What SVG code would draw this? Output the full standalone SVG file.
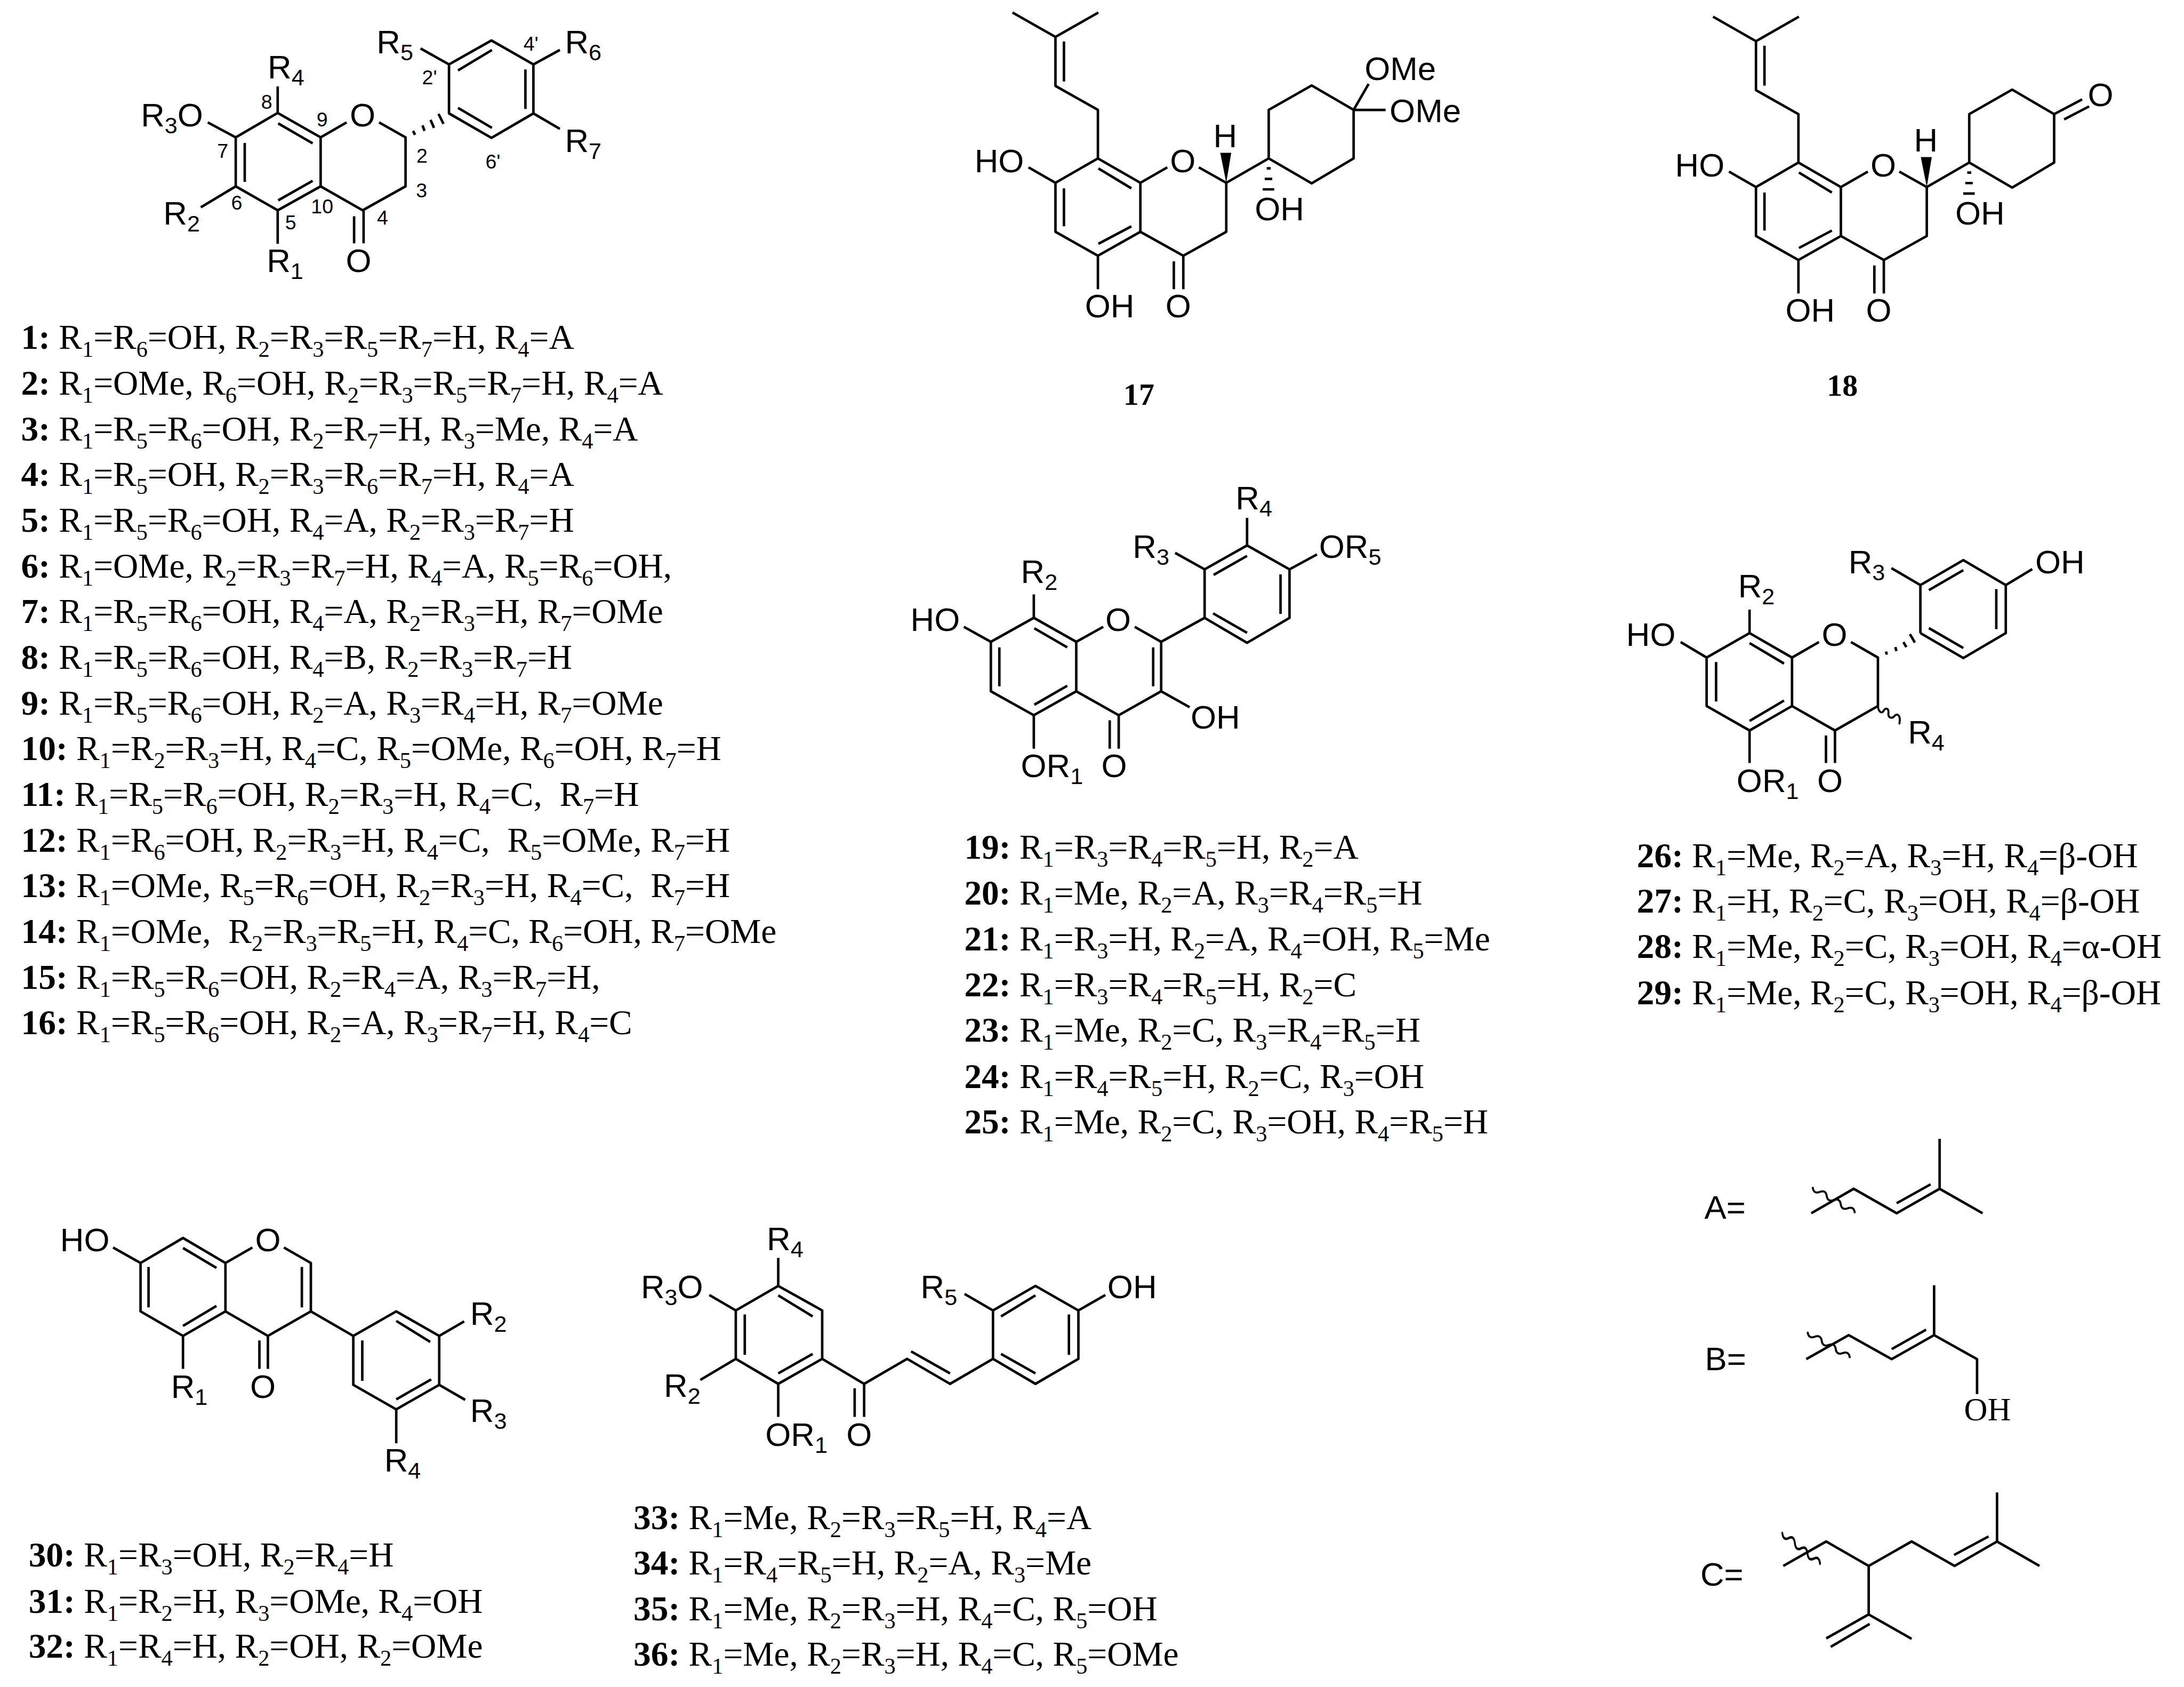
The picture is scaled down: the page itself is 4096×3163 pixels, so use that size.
<svg xmlns="http://www.w3.org/2000/svg" width="4096" height="3163" viewBox="0 0 4096 3163">
<style>
.b{fill:none;stroke:#000;stroke-width:5;stroke-linecap:butt;stroke-linejoin:round}
.w{fill:none;stroke:#000;stroke-width:4;stroke-linecap:round}
.l{font-family:"Liberation Sans",Arial,sans-serif;font-size:66px;fill:#000}
.c{text-anchor:middle}
.u{font-size:46px;baseline-shift:-14px}
.n{font-family:"Liberation Sans",Arial,sans-serif;font-size:40px;fill:#000;text-anchor:middle}
.t{font-family:"Liberation Serif","Times New Roman",serif;font-size:69.5px;fill:#000;white-space:pre}
.s{font-size:45px;baseline-shift:-16px}
.k{font-weight:bold}
.id{font-family:"Liberation Serif","Times New Roman",serif;font-size:62px;font-weight:bold;text-anchor:middle;fill:#000}
.o{font-family:"Liberation Serif","Times New Roman",serif;font-size:65px;fill:#000}
</style>
<defs>
<path id="core" class="b" d="M2018 25L2104 74L2190 25M2104 74V172L2189 220V317L2274 366V464L2189 512L2104 464V366L2189 317M2121 83V163M2190 337L2256 377M2121 377V453M2256 453L2190 488M2050 335L2104 366M2274 366L2328 335M2391 335L2446 366V464L2360 512L2274 464M2189 512V579M2341 523V579M2360 512V579M2446 366L2531 317V220L2617 171L2701 220V317L2617 367L2531 317M2527 337H2535M2523 358H2538M2519 379H2542"/>
<path id="wedge" d="M2446 366L2434 306H2456Z" fill="#000"/>
<path id="wave" class="w" d="M0 0q2 12.700 14 8.200t14 8.200 14 8.200 14 8.200 14 8.200 14 8.200"/>
</defs>
<rect width="4096" height="3163" fill="#fff"/>
<g transform="scale(0.94138)">

<g id="structure-1" transform="translate(1,0) scale(.995)">
<path class="b" d="M555 173V226L471 275V373L555 421L641 373V275L555 226M556 247L625 287M489 286V364M625 362L556 401M555 421V488M641 275L693 245M758 245L811 275V373L725 421L641 373M708 433V487M727 421V487M415 245L471 275M401 415L471 373M898 227V129L983 81L1067 129V227L983 276ZM916 141L984 100M1051 139V218M916 216L984 256M841 97L898 129M1120 100L1067 129M1120 258L1067 227M826 262L830 270M845 251L849 262M861 240L868 256M877 228L887 248"/>
<text class="l" x="535" y="157">R<tspan class="u">4</tspan></text>
<text class="l" x="281" y="253">R<tspan class="u">3</tspan>O</text>
<text class="l" x="326" y="449">R<tspan class="u">2</tspan></text>
<text class="l" x="533" y="545">R<tspan class="u">1</tspan></text>
<text class="l c" x="717" y="545">O</text>
<text class="l c" x="725" y="253">O</text>
<text class="l" x="753" y="107">R<tspan class="u">5</tspan></text>
<text class="l" x="1130" y="107">R<tspan class="u">6</tspan></text>
<text class="l" x="1130" y="304">R<tspan class="u">7</tspan></text>
<text class="n" x="533" y="218">8</text>
<text class="n" x="644" y="253">9</text>
<text class="n" x="445" y="316">7</text>
<text class="n" x="473" y="420">6</text>
<text class="n" x="581" y="459">5</text>
<text class="n" x="644" y="427">10</text>
<text class="n" x="765" y="449">4</text>
<text class="n" x="843" y="395">3</text>
<text class="n" x="844" y="326">2</text>
<text class="n" x="859" y="169">2'</text>
<text class="n" x="1062" y="101">4'</text>
<text class="n" x="986" y="337">6'</text>
</g>

<g id="structure-17" transform="translate(9.25,0) scale(.995)">
<use href="#core"/><use href="#wedge"/>
<path class="b" d="M2701 220L2731 168M2701 220H2765"/>
<text class="l" x="1942" y="345">HO</text>
<text class="l c" x="2359" y="345">O</text>
<text class="l c" x="2444" y="295">H</text>
<text class="l" x="2503" y="441">OH</text>
<text class="l" x="2163" y="635">OH</text>
<text class="l c" x="2350" y="635">O</text>
<text class="l" x="2723" y="160">OMe</text>
<text class="l" x="2773" y="245">OMe</text>
<text class="id" x="2271" y="810">17</text>
</g>

<g id="structure-18" transform="translate(1404.85,8.4) scale(.995)">
<use href="#core"/><use href="#wedge"/>
<path class="b" d="M2701 220L2757 190.500M2721 230.500L2771 204.500"/>
<text class="l" x="1942" y="345">HO</text>
<text class="l c" x="2359" y="345">O</text>
<text class="l c" x="2444" y="295">H</text>
<text class="l" x="2503" y="441">OH</text>
<text class="l" x="2163" y="635">OH</text>
<text class="l c" x="2350" y="635">O</text>
<text class="l c" x="2794" y="204.500">O</text>
<text class="id" x="2277" y="783.500">18</text>
</g>

<g id="structure-19" transform="translate(8.9,4.7) scale(.995)">
<path class="b" d="M2061 1185V1232L1975 1280V1379L2061 1427L2146 1379V1280L2061 1232M2062 1253L2128 1291M1992 1291V1369M2128 1368L2062 1406M1921 1250L1975 1280M2146 1280L2200 1250M2263 1250L2316 1280V1379L2231 1427L2146 1379M2300 1291V1369M2316 1280L2403 1232V1135L2488 1087L2573 1135V1232L2488 1282L2403 1232M2421 1146L2488 1108M2555 1145V1224M2420 1223L2488 1262M2344 1102L2403 1135M2488 1032V1087M2628 1105L2573 1135M2373 1411L2316 1379M2061 1427V1494M2213 1437V1494M2231 1427V1494"/>
<text class="l" x="2035" y="1162">R<tspan class="u">2</tspan></text>
<text class="l" x="1814" y="1258">HO</text>
<text class="l c" x="2230" y="1258">O</text>
<text class="l" x="2259" y="1112">R<tspan class="u">3</tspan></text>
<text class="l" x="2465" y="1015">R<tspan class="u">4</tspan></text>
<text class="l" x="2632" y="1112">OR<tspan class="u">5</tspan></text>
<text class="l" x="2375" y="1454">OH</text>
<text class="l" x="2035" y="1551">OR<tspan class="u">1</tspan></text>
<text class="l c" x="2222" y="1551">O</text>
</g>

<g id="structure-26" transform="translate(16,5.200) scale(.995)">
<path class="b" d="M3487 1215V1262L3401 1311V1408L3487 1457L3572 1408V1311L3487 1262M3487 1282L3556 1323M3420 1320V1399M3556 1397L3487 1438M3349 1280L3401 1311M3572 1311L3626 1280M3690 1280L3744 1311V1408L3658 1457L3572 1408M3829 1262V1166L3915 1116L4000 1166V1262L3915 1312L3829 1262M3846 1176L3915 1136M3981 1174V1254M3846 1252L3915 1292M3771 1132L3829 1166M4053 1134L4000 1166M3487 1457V1522M3640 1467V1522M3658 1457V1522M3760 1299L3762 1305M3779 1290L3781 1298M3795 1280L3801 1290M3808 1264L3818 1281"/>
<path class="w" d="M3744 1408C3745 1420 3752 1424 3755 1418C3760 1410 3766 1413 3765 1422C3764 1432 3772 1434 3777 1428C3784 1421 3790 1428 3787 1443"/>
<text class="l" x="3464" y="1191">R<tspan class="u">2</tspan></text>
<text class="l" x="3240" y="1288">HO</text>
<text class="l c" x="3657" y="1288">O</text>
<text class="l" x="3685" y="1142">R<tspan class="u">3</tspan></text>
<text class="l" x="4059" y="1142">OH</text>
<text class="l" x="3804" y="1483">R<tspan class="u">4</tspan></text>
<text class="l" x="3461" y="1580">OR<tspan class="u">1</tspan></text>
<text class="l c" x="3648" y="1580">O</text>
</g>

<g id="structure-30" transform="translate(.4,12) scale(.995)">
<path class="b" d="M226 2485L281 2516V2613L366 2662L451 2613V2516L366 2466L281 2516M366 2486L433 2526M297 2524V2605M433 2602L366 2642M451 2516L505 2485M568 2485L622 2516V2613L536 2662L451 2613M604 2524V2605M622 2613L707 2662V2760L793 2809L879 2760V2662L793 2613L707 2662M793 2632L861 2674M725 2671V2752M863 2749L793 2789M366 2662V2728M519 2671V2728M536 2662V2728M929 2633L879 2662M931 2790L879 2760M793 2809V2877"/>
<text class="l" x="120" y="2493">HO</text>
<text class="l c" x="536" y="2493">O</text>
<text class="l" x="342" y="2786">R<tspan class="u">1</tspan></text>
<text class="l c" x="526" y="2786">O</text>
<text class="l" x="941" y="2640">R<tspan class="u">2</tspan></text>
<text class="l" x="941" y="2834">R<tspan class="u">3</tspan></text>
<text class="l" x="769" y="2934">R<tspan class="u">4</tspan></text>
</g>

<g id="structure-33" transform="translate(6.2,12) scale(.995)">
<path class="b" d="M1552 2506V2562L1640 2611V2708L1552 2758L1467 2708V2611L1552 2562M1552 2581L1621 2623M1485 2619V2700M1621 2698L1552 2737M1414 2580L1467 2611M1396 2750L1467 2708M1552 2758V2824M1640 2708L1724 2758L1810 2708L1896 2758L1982 2708V2611L2067 2562L2153 2611V2708L2067 2758L1982 2708M1818 2693L1896 2737M1998 2623L2067 2581M2134 2619V2700M1998 2698L2067 2737M1925 2578L1982 2611M2207 2580L2153 2611M1705 2767V2824M1724 2758V2824"/>
<text class="l" x="1529" y="2490">R<tspan class="u">4</tspan></text>
<text class="l" x="1277" y="2587">R<tspan class="u">3</tspan>O</text>
<text class="l" x="1323" y="2784">R<tspan class="u">2</tspan></text>
<text class="l" x="1526" y="2882">OR<tspan class="u">1</tspan></text>
<text class="l c" x="1714" y="2882">O</text>
<text class="l" x="1837" y="2587">R<tspan class="u">5</tspan></text>
<text class="l" x="2211" y="2587">OH</text>
</g>

<g id="substituent-A" transform="translate(16.5,11.5) scale(.995)">
<text class="l" x="3396" y="2428">A=</text>
<path class="b" d="M3610 2417L3695 2368L3781 2417L3867 2368L3953 2417M3867 2368V2268M3781 2397L3849 2359"/>
<use href="#wave" x="3613" y="2366"/>
</g>
<g id="substituent-B" transform="translate(16.5,11.5) scale(.995)">
<text class="l" x="3397" y="2731">B=</text>
<path class="b" d="M3600 2709L3685 2661L3771 2709L3856 2661L3942 2709V2779M3856 2661V2561M3771 2689L3840 2650"/>
<use href="#wave" x="3603" y="2656"/>
<text class="o" x="3916" y="2832">OH</text>
</g>
<g id="substituent-C" transform="translate(16.5,11.5) scale(.995)">
<text class="l" x="3388" y="3162">C=</text>
<path class="b" d="M3554 3123L3640 3074L3725 3123L3811 3074L3897 3123L3982 3074L4067 3123M3982 3074V2976M3896 3101L3965 3064M3725 3123V3220L3811 3269M3725 3220L3640 3268M3727 3239L3649 3285"/>
<use href="#wave" transform="translate(3552,3057) scale(.9,1.25)"/>
</g>

<g id="table-1-16">
<text class="t" x="42" y="695"><tspan class="k">1:</tspan> R<tspan class="s">1</tspan>=R<tspan class="s">6</tspan>=OH, R<tspan class="s">2</tspan>=R<tspan class="s">3</tspan>=R<tspan class="s">5</tspan>=R<tspan class="s">7</tspan>=H, R<tspan class="s">4</tspan>=A</text>
<text class="t" x="42" y="786"><tspan class="k">2:</tspan> R<tspan class="s">1</tspan>=OMe, R<tspan class="s">6</tspan>=OH, R<tspan class="s">2</tspan>=R<tspan class="s">3</tspan>=R<tspan class="s">5</tspan>=R<tspan class="s">7</tspan>=H, R<tspan class="s">4</tspan>=A</text>
<text class="t" x="42" y="877"><tspan class="k">3:</tspan> R<tspan class="s">1</tspan>=R<tspan class="s">5</tspan>=R<tspan class="s">6</tspan>=OH, R<tspan class="s">2</tspan>=R<tspan class="s">7</tspan>=H, R<tspan class="s">3</tspan>=Me, R<tspan class="s">4</tspan>=A</text>
<text class="t" x="42" y="968"><tspan class="k">4:</tspan> R<tspan class="s">1</tspan>=R<tspan class="s">5</tspan>=OH, R<tspan class="s">2</tspan>=R<tspan class="s">3</tspan>=R<tspan class="s">6</tspan>=R<tspan class="s">7</tspan>=H, R<tspan class="s">4</tspan>=A</text>
<text class="t" x="42" y="1059"><tspan class="k">5:</tspan> R<tspan class="s">1</tspan>=R<tspan class="s">5</tspan>=R<tspan class="s">6</tspan>=OH, R<tspan class="s">4</tspan>=A, R<tspan class="s">2</tspan>=R<tspan class="s">3</tspan>=R<tspan class="s">7</tspan>=H</text>
<text class="t" x="42" y="1150"><tspan class="k">6:</tspan> R<tspan class="s">1</tspan>=OMe, R<tspan class="s">2</tspan>=R<tspan class="s">3</tspan>=R<tspan class="s">7</tspan>=H, R<tspan class="s">4</tspan>=A, R<tspan class="s">5</tspan>=R<tspan class="s">6</tspan>=OH,</text>
<text class="t" x="42" y="1241"><tspan class="k">7:</tspan> R<tspan class="s">1</tspan>=R<tspan class="s">5</tspan>=R<tspan class="s">6</tspan>=OH, R<tspan class="s">4</tspan>=A, R<tspan class="s">2</tspan>=R<tspan class="s">3</tspan>=H, R<tspan class="s">7</tspan>=OMe</text>
<text class="t" x="42" y="1332"><tspan class="k">8:</tspan> R<tspan class="s">1</tspan>=R<tspan class="s">5</tspan>=R<tspan class="s">6</tspan>=OH, R<tspan class="s">4</tspan>=B, R<tspan class="s">2</tspan>=R<tspan class="s">3</tspan>=R<tspan class="s">7</tspan>=H</text>
<text class="t" x="42" y="1423"><tspan class="k">9:</tspan> R<tspan class="s">1</tspan>=R<tspan class="s">5</tspan>=R<tspan class="s">6</tspan>=OH, R<tspan class="s">2</tspan>=A, R<tspan class="s">3</tspan>=R<tspan class="s">4</tspan>=H, R<tspan class="s">7</tspan>=OMe</text>
<text class="t" x="42" y="1514"><tspan class="k">10:</tspan> R<tspan class="s">1</tspan>=R<tspan class="s">2</tspan>=R<tspan class="s">3</tspan>=H, R<tspan class="s">4</tspan>=C, R<tspan class="s">5</tspan>=OMe, R<tspan class="s">6</tspan>=OH, R<tspan class="s">7</tspan>=H</text>
<text class="t" x="42" y="1605"><tspan class="k">11:</tspan> R<tspan class="s">1</tspan>=R<tspan class="s">5</tspan>=R<tspan class="s">6</tspan>=OH, R<tspan class="s">2</tspan>=R<tspan class="s">3</tspan>=H, R<tspan class="s">4</tspan>=C,  R<tspan class="s">7</tspan>=H</text>
<text class="t" x="42" y="1696"><tspan class="k">12:</tspan> R<tspan class="s">1</tspan>=R<tspan class="s">6</tspan>=OH, R<tspan class="s">2</tspan>=R<tspan class="s">3</tspan>=H, R<tspan class="s">4</tspan>=C,  R<tspan class="s">5</tspan>=OMe, R<tspan class="s">7</tspan>=H</text>
<text class="t" x="42" y="1787"><tspan class="k">13:</tspan> R<tspan class="s">1</tspan>=OMe, R<tspan class="s">5</tspan>=R<tspan class="s">6</tspan>=OH, R<tspan class="s">2</tspan>=R<tspan class="s">3</tspan>=H, R<tspan class="s">4</tspan>=C,  R<tspan class="s">7</tspan>=H</text>
<text class="t" x="42" y="1878"><tspan class="k">14:</tspan> R<tspan class="s">1</tspan>=OMe,  R<tspan class="s">2</tspan>=R<tspan class="s">3</tspan>=R<tspan class="s">5</tspan>=H, R<tspan class="s">4</tspan>=C, R<tspan class="s">6</tspan>=OH, R<tspan class="s">7</tspan>=OMe</text>
<text class="t" x="42" y="1969"><tspan class="k">15:</tspan> R<tspan class="s">1</tspan>=R<tspan class="s">5</tspan>=R<tspan class="s">6</tspan>=OH, R<tspan class="s">2</tspan>=R<tspan class="s">4</tspan>=A, R<tspan class="s">3</tspan>=R<tspan class="s">7</tspan>=H,</text>
<text class="t" x="42" y="2060"><tspan class="k">16:</tspan> R<tspan class="s">1</tspan>=R<tspan class="s">5</tspan>=R<tspan class="s">6</tspan>=OH, R<tspan class="s">2</tspan>=A, R<tspan class="s">3</tspan>=R<tspan class="s">7</tspan>=H, R<tspan class="s">4</tspan>=C</text>
</g>

<g id="table-19-25">
<text class="t" x="1921" y="1710"><tspan class="k">19:</tspan> R<tspan class="s">1</tspan>=R<tspan class="s">3</tspan>=R<tspan class="s">4</tspan>=R<tspan class="s">5</tspan>=H, R<tspan class="s">2</tspan>=A</text>
<text class="t" x="1921" y="1802"><tspan class="k">20:</tspan> R<tspan class="s">1</tspan>=Me, R<tspan class="s">2</tspan>=A, R<tspan class="s">3</tspan>=R<tspan class="s">4</tspan>=R<tspan class="s">5</tspan>=H</text>
<text class="t" x="1921" y="1893"><tspan class="k">21:</tspan> R<tspan class="s">1</tspan>=R<tspan class="s">3</tspan>=H, R<tspan class="s">2</tspan>=A, R<tspan class="s">4</tspan>=OH, R<tspan class="s">5</tspan>=Me</text>
<text class="t" x="1921" y="1984"><tspan class="k">22:</tspan> R<tspan class="s">1</tspan>=R<tspan class="s">3</tspan>=R<tspan class="s">4</tspan>=R<tspan class="s">5</tspan>=H, R<tspan class="s">2</tspan>=C</text>
<text class="t" x="1921" y="2075"><tspan class="k">23:</tspan> R<tspan class="s">1</tspan>=Me, R<tspan class="s">2</tspan>=C, R<tspan class="s">3</tspan>=R<tspan class="s">4</tspan>=R<tspan class="s">5</tspan>=H</text>
<text class="t" x="1921" y="2167"><tspan class="k">24:</tspan> R<tspan class="s">1</tspan>=R<tspan class="s">4</tspan>=R<tspan class="s">5</tspan>=H, R<tspan class="s">2</tspan>=C, R<tspan class="s">3</tspan>=OH</text>
<text class="t" x="1921" y="2257"><tspan class="k">25:</tspan> R<tspan class="s">1</tspan>=Me, R<tspan class="s">2</tspan>=C, R<tspan class="s">3</tspan>=OH, R<tspan class="s">4</tspan>=R<tspan class="s">5</tspan>=H</text>
</g>

<g id="table-26-29">
<text class="t" x="3261" y="1727"><tspan class="k">26:</tspan> R<tspan class="s">1</tspan>=Me, R<tspan class="s">2</tspan>=A, R<tspan class="s">3</tspan>=H, R<tspan class="s">4</tspan>=β-OH</text>
<text class="t" x="3261" y="1818"><tspan class="k">27:</tspan> R<tspan class="s">1</tspan>=H, R<tspan class="s">2</tspan>=C, R<tspan class="s">3</tspan>=OH, R<tspan class="s">4</tspan>=β-OH</text>
<text class="t" x="3261" y="1908"><tspan class="k">28:</tspan> R<tspan class="s">1</tspan>=Me, R<tspan class="s">2</tspan>=C, R<tspan class="s">3</tspan>=OH, R<tspan class="s">4</tspan>=α-OH</text>
<text class="t" x="3261" y="2000"><tspan class="k">29:</tspan> R<tspan class="s">1</tspan>=Me, R<tspan class="s">2</tspan>=C, R<tspan class="s">3</tspan>=OH, R<tspan class="s">4</tspan>=β-OH</text>
</g>

<g id="table-30-32">
<text class="t" x="57" y="3120"><tspan class="k">30:</tspan> R<tspan class="s">1</tspan>=R<tspan class="s">3</tspan>=OH, R<tspan class="s">2</tspan>=R<tspan class="s">4</tspan>=H</text>
<text class="t" x="57" y="3212"><tspan class="k">31:</tspan> R<tspan class="s">1</tspan>=R<tspan class="s">2</tspan>=H, R<tspan class="s">3</tspan>=OMe, R<tspan class="s">4</tspan>=OH</text>
<text class="t" x="57" y="3302"><tspan class="k">32:</tspan> R<tspan class="s">1</tspan>=R<tspan class="s">4</tspan>=H, R<tspan class="s">2</tspan>=OH, R<tspan class="s">2</tspan>=OMe</text>
</g>

<g id="table-33-36">
<text class="t" x="1262" y="3045"><tspan class="k">33:</tspan> R<tspan class="s">1</tspan>=Me, R<tspan class="s">2</tspan>=R<tspan class="s">3</tspan>=R<tspan class="s">5</tspan>=H, R<tspan class="s">4</tspan>=A</text>
<text class="t" x="1262" y="3136"><tspan class="k">34:</tspan> R<tspan class="s">1</tspan>=R<tspan class="s">4</tspan>=R<tspan class="s">5</tspan>=H, R<tspan class="s">2</tspan>=A, R<tspan class="s">3</tspan>=Me</text>
<text class="t" x="1262" y="3227"><tspan class="k">35:</tspan> R<tspan class="s">1</tspan>=Me, R<tspan class="s">2</tspan>=R<tspan class="s">3</tspan>=H, R<tspan class="s">4</tspan>=C, R<tspan class="s">5</tspan>=OH</text>
<text class="t" x="1262" y="3317"><tspan class="k">36:</tspan> R<tspan class="s">1</tspan>=Me, R<tspan class="s">2</tspan>=R<tspan class="s">3</tspan>=H, R<tspan class="s">4</tspan>=C, R<tspan class="s">5</tspan>=OMe</text>
</g>

</g>
</svg>
